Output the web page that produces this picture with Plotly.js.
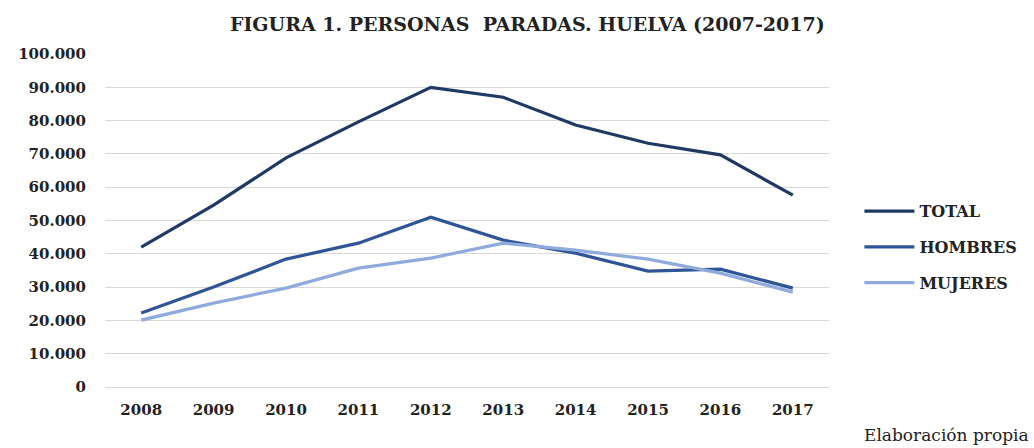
<!DOCTYPE html>
<html>
<head>
<meta charset="utf-8">
<script src="https://cdn.plot.ly/plotly-3.0.1.min.js"></script>
<style>html,body{margin:0;padding:0;background:#fff;}#chart{width:1034px;height:448px;}</style>
</head>
<body>
<div id="chart"></div>
<script>
const years = ['2008','2009','2010','2011','2012','2013','2014','2015','2016','2017'];
const total = [42000, 54600, 68800, 79600, 90000, 87000, 78700, 73200, 69700, 57600];
const hombres = [22200, 30000, 38400, 43200, 51000, 44100, 40200, 34800, 35400, 29700];
const mujeres = [20100, 25200, 29700, 35700, 38700, 43200, 41100, 38400, 34200, 28500];
const seriesNames = ['TOTAL', 'HOMBRES', 'MUJERES'];
const seriesColors = ['#1f3864', '#2f5597', '#8faadc'];
const yTicks = [0,10000,20000,30000,40000,50000,60000,70000,80000,90000,100000];

const serif = '"DejaVu Serif", "Liberation Serif", serif';
const data = [total, hombres, mujeres].map((v, i) => ({
  x: years, y: v, type: 'scatter', mode: 'lines', name: seriesNames[i], legendgroup: 'g' + i,
  line: {color: seriesColors[i], width: 3.2}
}));

const layout = {
  width: 1034, height: 448,
  margin: {l: 105, r: 200, t: 54, b: 61},
  separators: ',.',
  paper_bgcolor: '#fff', plot_bgcolor: '#fff',
  title: {text: '<b>FIGURA 1. PERSONAS  PARADAS. HUELVA (2007-2017)</b>', x: 0.51, xanchor: 'center', y: 0.945, yanchor: 'middle',
          font: {family: serif, size: 19, color: '#222'}},
  xaxis: {type: 'category', range: [-0.5, 9.5], showgrid: false, zeroline: false, showline: false, ticks: '',
          ticklabelstandoff: 12,
          tickfont: {family: serif, size: 15, color: '#222', weight: 'bold'}},
  yaxis: {range: [0, 100000], tickvals: yTicks, tickformat: ',d', showgrid: true, gridcolor: '#d9d9d9', gridwidth: 1,
          zeroline: true, zerolinecolor: '#d9d9d9', showline: false, ticks: '', ticklen: 0,
          ticklabelstandoff: 18,
          tickfont: {family: serif, size: 15, color: '#222', weight: 'bold'}},
  legend: {x: 1.042, xanchor: 'left', y: 0.42, yanchor: 'middle', traceorder: 'grouped', tracegroupgap: 12, itemwidth: 50,
           font: {family: serif, size: 16, color: '#222', weight: 'bold'}, bgcolor: 'rgba(0,0,0,0)'},
  annotations: [{text: 'Elaboración propia', xref: 'paper', yref: 'paper', x: 1.045, y: -0.145, xanchor: 'left', yanchor: 'middle',
                 showarrow: false, font: {family: serif, size: 17, color: '#222'}}]
};
Plotly.newPlot('chart', data, layout, {displayModeBar: false});
</script>
</body>
</html>
